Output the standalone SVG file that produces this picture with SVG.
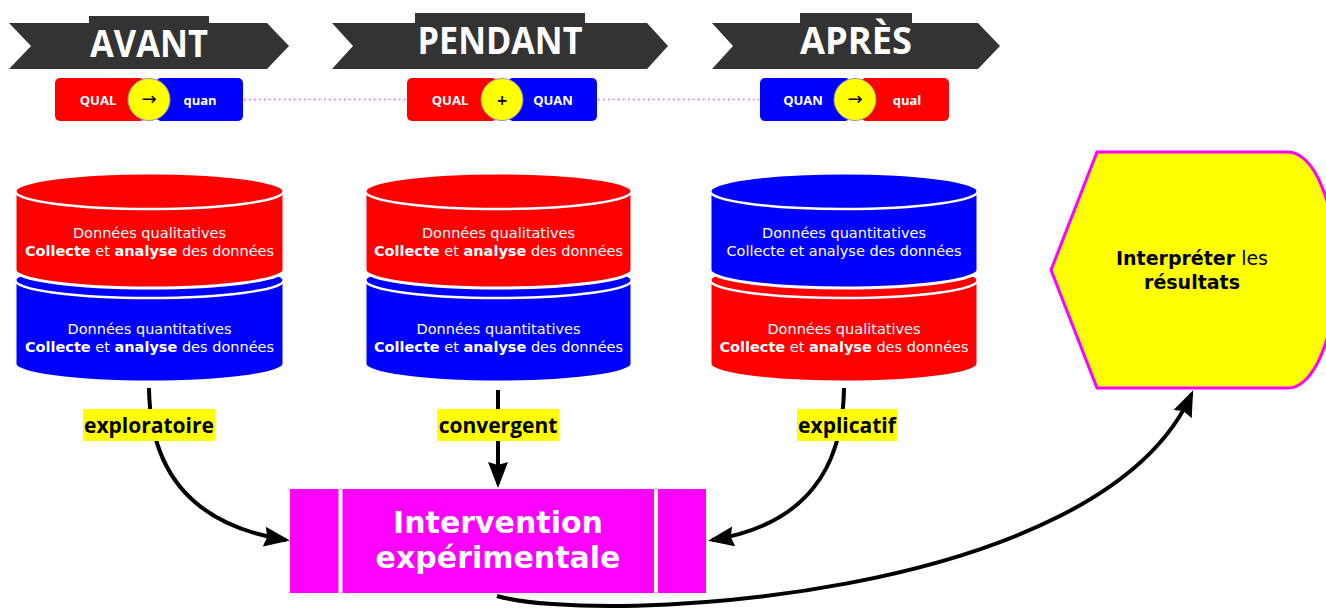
<svg xmlns="http://www.w3.org/2000/svg" width="1326" height="610" viewBox="0 0 1326 610">
<style>
.ban{fill:#333333}
.bt{font-family:"Open Sans","Liberation Sans",sans-serif;font-weight:700;font-size:37px;fill:#ffffff;text-anchor:middle}
.red{fill:#ff0000}
.blue{fill:#0000ff}
.pt{font-family:"Open Sans","Liberation Sans",sans-serif;font-weight:700;font-size:13px;fill:#ffffff;text-anchor:middle}
.circ{fill:#ffff00;stroke:#9a9a9a;stroke-width:1}
.ct{font-family:"DejaVu Sans",sans-serif;font-size:18px;fill:#000000;text-anchor:middle}
.pl{font-family:"DejaVu Sans",sans-serif;font-size:14px;font-weight:700;fill:#000000;text-anchor:middle}
.dot{stroke:#ff44ff;stroke-width:1.5;stroke-dasharray:1.5 3.5;fill:none}
.cylr{fill:#ff0000;stroke:#ffffff;stroke-width:3}
.cylb{fill:#0000ff;stroke:#ffffff;stroke-width:3}
.cap{fill:none;stroke:#ffffff;stroke-width:2.5}
.tx{font-family:"DejaVu Sans",sans-serif;font-size:14.5px;fill:#ffffff;text-anchor:middle}
.b{font-weight:700}
.conn{fill:none;stroke:#000000;stroke-width:4}
.lbg{fill:#ffff00}
.lt{font-family:"Open Sans","Liberation Sans",sans-serif;font-weight:700;font-size:21px;fill:#000000;text-anchor:middle}
.box{fill:#ff00ff}
.sep{stroke:#ffffff;stroke-width:4}
.it{font-family:"DejaVu Sans",sans-serif;font-weight:700;font-size:30px;fill:#ffffff;text-anchor:middle}
.hex{fill:#ffff00;stroke:#ff00ff;stroke-width:3}
.ht{font-family:"DejaVu Sans",sans-serif;font-size:19px;fill:#000000;text-anchor:middle}
</style>
<defs>
<marker id="ah" markerUnits="userSpaceOnUse" markerWidth="28" markerHeight="22" refX="22" refY="10" orient="auto">
<path d="M0,0 L26,10 L0,20 L3,10 Z" fill="#000000"/>
</marker>
</defs>

<g id="banner-avant">
<rect class="ban" x="89" y="16" width="120" height="10"/>
<polygon class="ban" points="9,23 267,23 289,46 267,69 9,69 31,46"/>
<text class="bt" x="149" y="57" textLength="118" lengthAdjust="spacingAndGlyphs">AVANT</text>
</g>
<g id="banner-pendant">
<rect class="ban" x="415" y="13" width="170" height="12"/>
<polygon class="ban" points="332,23 647,23 668,46 647,69 332,69 353,46"/>
<text class="bt" x="500" y="54" textLength="165" lengthAdjust="spacingAndGlyphs">PENDANT</text>
</g>
<g id="banner-apres">
<rect class="ban" x="800" y="13" width="112" height="12"/>
<polygon class="ban" points="712,23 978,23 1000,46 978,69 712,69 733,46"/>
<text class="bt" x="856" y="54" textLength="112" lengthAdjust="spacingAndGlyphs">APRÈS</text>
</g>

<g id="dotted-links">
<line class="dot" x1="244" y1="99.5" x2="406" y2="99.5"/>
<line class="dot" x1="598" y1="99.5" x2="759" y2="99.5"/>
</g>

<g id="pill-avant">
<rect class="red" x="55" y="78" width="90" height="43" rx="5"/>
<rect class="blue" x="156" y="78" width="87" height="43" rx="5"/>
<circle class="circ" cx="149" cy="99.5" r="21"/>
<text class="pt" x="98" y="105">QUAL</text>
<text class="pt" x="200" y="105">quan</text>
<text class="ct" x="149" y="105">→</text>
</g>
<g id="pill-pendant">
<rect class="red" x="407" y="78" width="90" height="43" rx="5"/>
<rect class="blue" x="508" y="78" width="89" height="43" rx="5"/>
<circle class="circ" cx="502" cy="99.5" r="21"/>
<text class="pt" x="450" y="105">QUAL</text>
<text class="pt" x="553" y="105">QUAN</text>
<text class="pl" x="502" y="104.5">+</text>
</g>
<g id="pill-apres">
<rect class="blue" x="760" y="78" width="90" height="43" rx="5"/>
<rect class="red" x="861" y="78" width="88" height="43" rx="5"/>
<circle class="circ" cx="855" cy="99.5" r="21"/>
<text class="pt" x="803" y="105">QUAN</text>
<text class="pt" x="907" y="105">qual</text>
<text class="ct" x="855" y="105">→</text>
</g>

<g id="connectors">
<path class="conn" d="M149,388 C150,470 190,525 286,540" marker-end="url(#ah)"/>
<path class="conn" d="M498,390 L498,484" marker-end="url(#ah)"/>
<path class="conn" d="M844,388 C843,470 805,525 712,540" marker-end="url(#ah)"/>
<path class="conn" d="M497,596 C600,625 1100,600 1191.5,394" marker-end="url(#ah)"/>
<rect class="lbg" x="83" y="409" width="132" height="32"/>
<text class="lt" x="149" y="433">exploratoire</text>
<rect class="lbg" x="437" y="409" width="122" height="32"/>
<text class="lt" x="498" y="433">convergent</text>
<rect class="lbg" x="797" y="409" width="100" height="32"/>
<text class="lt" x="847" y="433">explicatif</text>
</g>

<g id="cyl-avant">
<path class="cylb" d="M15,280 A134.5,18 0 0 1 284,280 L284,364 A134.5,18 0 0 1 15,364 Z"/>
<path class="cap" d="M15,280 A134.5,18 0 0 0 284,280"/>
<path class="cylr" d="M15,191 A134.5,18 0 0 1 284,191 L284,270 A134.5,18 0 0 1 15,270 Z"/>
<path class="cap" d="M15,191 A134.5,18 0 0 0 284,191"/>
<text class="tx" x="149.5" y="238">Données qualitatives</text>
<text class="tx" x="149.5" y="256"><tspan class="b">Collecte</tspan> et <tspan class="b">analyse</tspan> des données</text>
<text class="tx" x="149.5" y="334">Données quantitatives</text>
<text class="tx" x="149.5" y="352"><tspan class="b">Collecte</tspan> et <tspan class="b">analyse</tspan> des données</text>
</g>

<g id="cyl-pendant">
<path class="cylb" d="M365,280 A133.5,18 0 0 1 632,280 L632,364 A133.5,18 0 0 1 365,364 Z"/>
<path class="cap" d="M365,280 A133.5,18 0 0 0 632,280"/>
<path class="cylr" d="M365,191 A133.5,18 0 0 1 632,191 L632,270 A133.5,18 0 0 1 365,270 Z"/>
<path class="cap" d="M365,191 A133.5,18 0 0 0 632,191"/>
<text class="tx" x="498.5" y="238">Données qualitatives</text>
<text class="tx" x="498.5" y="256"><tspan class="b">Collecte</tspan> et <tspan class="b">analyse</tspan> des données</text>
<text class="tx" x="498.5" y="334">Données quantitatives</text>
<text class="tx" x="498.5" y="352"><tspan class="b">Collecte</tspan> et <tspan class="b">analyse</tspan> des données</text>
</g>

<g id="cyl-apres">
<path class="cylr" d="M710,280 A134,18 0 0 1 978,280 L978,364 A134,18 0 0 1 710,364 Z"/>
<path class="cap" d="M710,280 A134,18 0 0 0 978,280"/>
<path class="cylb" d="M710,191 A134,18 0 0 1 978,191 L978,270 A134,18 0 0 1 710,270 Z"/>
<path class="cap" d="M710,191 A134,18 0 0 0 978,191"/>
<text class="tx" x="844" y="238">Données quantitatives</text>
<text class="tx" x="844" y="256">Collecte et analyse des données</text>
<text class="tx" x="844" y="334">Données qualitatives</text>
<text class="tx" x="844" y="352"><tspan class="b">Collecte</tspan> et <tspan class="b">analyse</tspan> des données</text>
</g>

<g id="intervention">
<rect class="box" x="290" y="489" width="416" height="104"/>
<line class="sep" x1="340.5" y1="489" x2="340.5" y2="593"/>
<line class="sep" x1="656" y1="489" x2="656" y2="593"/>
<text class="it" x="498" y="533">Intervention</text>
<text class="it" x="498" y="568">expérimentale</text>
</g>

<g id="interpreter">
<path class="hex" d="M1051,270 L1097,152 L1288,152 A48,118 0 0 1 1288,388 L1097,388 Z"/>
<text class="ht" x="1192" y="265"><tspan class="b">Interpréter</tspan> les</text>
<text class="ht b" x="1192" y="289">résultats</text>
</g>
</svg>
